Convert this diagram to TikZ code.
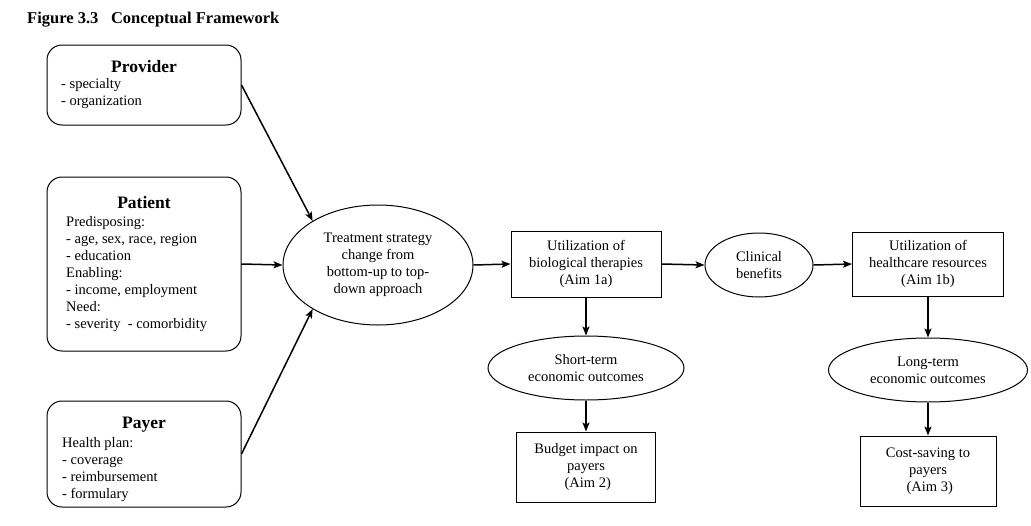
\documentclass[tikz,border=0pt]{standalone}
\usepackage{fontspec}
\setmainfont{Liberation Serif}
\usetikzlibrary{shapes.geometric,arrows.meta}
\begin{document}
\begin{tikzpicture}[x=1pt,y=-1pt,
  body/.style={font=\fontsize{14.5}{17}\selectfont},
  grp/.style={draw, line width=1pt, rounded corners=15pt, minimum width=194pt, inner sep=0pt},
  gtitle/.style={font=\fontsize{17.5}{20}\selectfont\bfseries, inner sep=0pt},
  glist/.style={body, align=left, anchor=north west, inner sep=0pt},
  ell/.style={draw, ellipse, line width=1pt, inner sep=0pt, body, align=center},
  box/.style={draw, rectangle, line width=1pt, inner sep=0pt, body, align=center},
  arr/.style={line width=1.5pt, -{Stealth[length=9pt,width=7pt,inset=2pt]}}
]
\useasboundingbox (0,0) rectangle (1031,525);

\node[anchor=base west, inner sep=0pt, font=\fontsize{16.5}{19}\selectfont\bfseries] (title) at (27,23) {Figure 3.3\hspace{12.7pt}Conceptual Framework};

% Provider
\node[grp, minimum height=80pt] (prov) at (144,85) {};
\node[gtitle, anchor=base] (provt) at (144,72) {Provider};
\node[glist] (provl) at (61,78) {- specialty\\- organization};

% Patient
\node[grp, minimum height=174pt] (pat) at (144,264) {};
\node[gtitle, anchor=base] (patt) at (144,208) {Patient};
\node[glist] (patl) at (66,216) {Predisposing:\\- age, sex, race, region\\- education\\Enabling:\\- income, employment\\Need:\\- severity\ \ - comorbidity};

% Payer
\node[grp, minimum height=106pt] (pay) at (144,454) {};
\node[gtitle, anchor=base] (payt) at (144,428) {Payer};
\node[glist] (payl) at (62,437) {Health plan:\\- coverage\\- reimbursement\\- formulary};

% Middle and right
\node[ell, minimum width=190pt, minimum height=120pt] (treat) at (378,265) {Treatment strategy\\change from\\bottom-up to top-\\down approach};
\node[box, minimum width=150pt, minimum height=66pt] (bio) at (586,264) {Utilization of\\biological therapies\\(Aim 1a)};
\node[ell, minimum width=108pt, minimum height=64pt] (clin) at (759,265) {Clinical\\benefits};
\node[box, minimum width=151pt, minimum height=64pt] (hc) at (928,264) {Utilization of\\healthcare resources\\(Aim 1b)};
\node[ell, minimum width=196pt, minimum height=64pt] (short) at (586,368) {Short-term\\economic outcomes};
\node[box, minimum width=139pt, minimum height=70pt] (budget) at (586,467) {Budget impact on\\payers\\\ (Aim 2)};
\node[ell, minimum width=199pt, minimum height=64pt] (long) at (928,370) {Long-term\\economic outcomes};
\node[box, minimum width=136pt, minimum height=70pt] (cost) at (928,471) {Cost-saving to\\payers\\\ (Aim 3)};

% Connectors
\draw[arr] (prov.east) -- (treat.146);
\draw[arr] (pat.east) -- (treat.west);
\draw[arr] (pay.east) -- (treat.214);
\draw[arr] (treat.east) -- (bio.west);
\draw[arr] (bio.east) -- (clin.west);
\draw[arr] (clin.east) -- (hc.west);
\draw[arr] (bio.south) -- (short.north);
\draw[arr] (short.south) -- (budget.north);
\draw[arr] (hc.south) -- (long.north);
\draw[arr] (long.south) -- (cost.north);
\end{tikzpicture}
\end{document}
